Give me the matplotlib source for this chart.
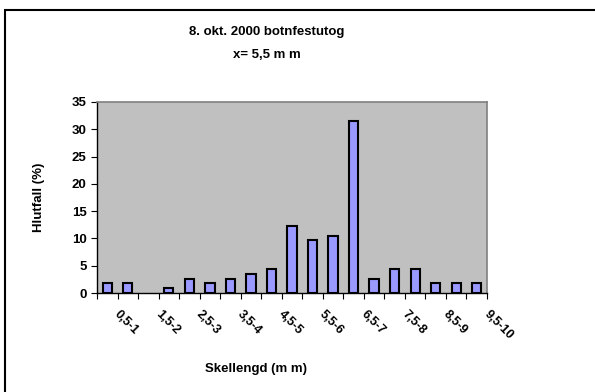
import matplotlib
matplotlib.use("Agg")
import matplotlib.pyplot as plt
import matplotlib.transforms as mtransforms
from matplotlib.patches import Rectangle

categories = ["0,5-1", "1-1,5", "1,5-2", "2-2,5", "2,5-3", "3-3,5", "3,5-4", "4-4,5",
              "4,5-5", "5-5,5", "5,5-6", "6-6,5", "6,5-7", "7-7,5", "7,5-8", "8-8,5",
              "8,5-9", "9-9,5", "9,5-10"]
values = [1.75, 1.75, 0.0, 0.88, 2.63, 1.75, 2.63, 3.51, 4.39, 12.28, 9.65, 10.53,
          31.58, 2.63, 4.39, 4.39, 1.75, 1.75, 1.75]
yticks = [0, 5, 10, 15, 20, 25, 30, 35]
title_lines = ["8. okt. 2000 botnfestutog", "x= 5,5 m m"]
xlabel = "Skellengd (m m)"
ylabel = "Hlutfall (%)"

plt.rcParams['font.family'] = ['Liberation Sans', 'DejaVu Sans']
plt.rcParams['font.weight'] = 'bold'

W, H = 595, 392
fig = plt.figure(figsize=(W / 100, H / 100), dpi=100)
fig.patch.set_facecolor('white')

# outer chart frame
fig.patches.append(Rectangle((5 / W, -0.1), 1.2, 1 - 10 / H + 0.1, transform=fig.transFigure,
                             fill=False, edgecolor='black', linewidth=1.5))

ax = fig.add_axes([97 / W, 1 - 293 / H, 390 / W, 191 / H])
ax.set_facecolor('#C0C0C0')
n = len(categories)
x = list(range(n))
edges = ['black' if v > 0 else 'none' for v in values]
ax.bar(x, values, width=0.45, color='#9999FF', edgecolor=edges, linewidth=1.5, zorder=3)
ax.set_xlim(-0.5, n - 0.5)
ax.set_ylim(0, 35)
ax.set_yticks(yticks)
ax.set_yticklabels([str(t) for t in yticks], fontsize=9.5, fontweight='bold')

# tick marks at category boundaries, labels at every other category
ax.set_xticks([i - 0.5 for i in range(n + 1)])
ax.set_xticklabels([])
ax.set_xticks(x[::2], minor=True)
ax.set_xticklabels(categories[::2], minor=True, rotation=-45, ha='left', va='center',
                   rotation_mode='anchor', fontsize=9, fontweight='bold')
ax.tick_params(axis='x', which='major', direction='out', length=4.5, width=0.8, color='black')
ax.tick_params(axis='x', which='minor', length=0, pad=14)
ax.tick_params(axis='y', direction='out', length=4.5, width=0.8, pad=3)
offset = mtransforms.ScaledTranslation(9 / 100, 0, fig.dpi_scale_trans)
for lbl in ax.get_xticklabels(minor=True):
    lbl.set_transform(lbl.get_transform() + offset)

for s in ['top', 'right']:
    ax.spines[s].set_color('#808080')
    ax.spines[s].set_linewidth(1.2)
for s in ['left', 'bottom']:
    ax.spines[s].set_color('black')
    ax.spines[s].set_linewidth(1.0)

fig.text(267 / W, 1 - 31.5 / H, title_lines[0], ha='center', va='center',
         fontsize=9.5, fontweight='bold')
fig.text(267 / W, 1 - 55 / H, title_lines[1], ha='center', va='center',
         fontsize=9.5, fontweight='bold')
fig.text(256 / W, 1 - 369 / H, xlabel, ha='center', va='center', fontsize=9.5, fontweight='bold')
fig.text(39 / W, 1 - 197 / H, ylabel, ha='center', va='center', rotation=90,
         fontsize=9.5, fontweight='bold')

fig.savefig("out.png", dpi=100, facecolor='white')
